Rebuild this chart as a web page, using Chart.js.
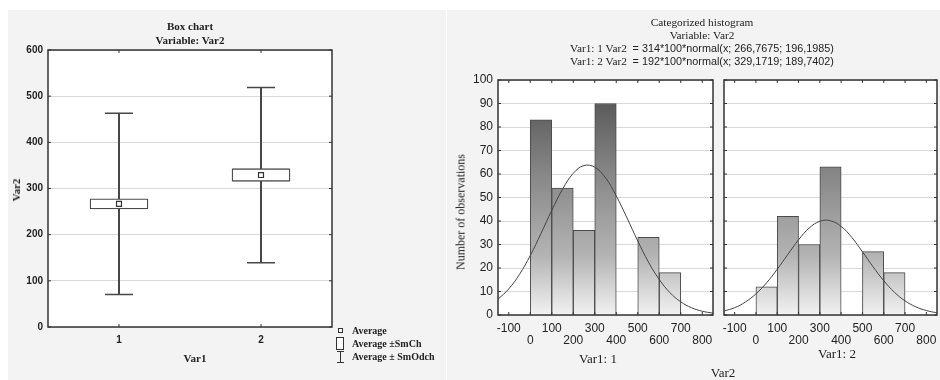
<!DOCTYPE html>
<html><head><meta charset="utf-8">
<script src="https://cdn.jsdelivr.net/npm/chart.js@4/dist/chart.umd.min.js"></script>
<style>
html,body{margin:0;padding:0;background:#fff;}
body{width:940px;height:380px;position:relative;overflow:hidden;font-family:"Liberation Serif","Times New Roman",serif;color:#222;}
.panel{position:absolute;background:#f3f3f3;}
canvas{position:absolute;}
.t{position:absolute;white-space:pre;color:#222;}
.c{transform:translate(-50%,-50%);}
.r{transform:translate(-50%,-50%) rotate(-90deg);}
.sans{font-family:"Liberation Sans",Arial,sans-serif;font-size:10.8px;}
</style></head><body>
<div class="panel" style="left:8px;top:10px;width:438px;height:370px"></div>
<div class="panel" style="left:447px;top:10px;width:493px;height:370px"></div>
<canvas id="box" width="340" height="380" style="left:0;top:0;width:340px;height:380px"></canvas>
<canvas id="h1" width="263" height="380" style="left:453px;top:0;width:263px;height:380px"></canvas>
<canvas id="h2" width="224" height="380" style="left:716px;top:0;width:224px;height:380px"></canvas>

<div class="t c" style="left:190px;top:33px;font-weight:bold;font-size:11px;line-height:14px;text-align:center">Box chart
Variable: Var2</div>
<div class="t r" style="left:16px;top:190px;font-weight:bold;font-size:11px">Var2</div>
<div class="t c" style="left:195px;top:358px;font-weight:bold;font-size:11px">Var1</div>

<div class="t" style="left:338px;top:328px;width:5px;height:5px;border:1px solid #333;box-sizing:border-box;background:#fff"></div>
<div class="t" style="left:352px;top:325px;font-weight:bold;font-size:10px">Average</div>
<div class="t" style="left:336px;top:337px;width:8px;height:13px;border:1.3px solid #333;box-sizing:border-box;background:#fff"></div>
<div class="t" style="left:352px;top:338px;font-weight:bold;font-size:10px">Average ±SmCh</div>
<div class="t" style="left:339.5px;top:351px;width:1.3px;height:12px;background:#333"></div>
<div class="t" style="left:336.5px;top:351px;width:7px;height:1.3px;background:#333"></div>
<div class="t" style="left:336.5px;top:362px;width:7px;height:1.3px;background:#333"></div>
<div class="t" style="left:352px;top:351px;font-weight:bold;font-size:10px">Average ± SmOdch</div>

<div class="t c" style="left:702px;top:42.5px;font-size:11.3px;line-height:13.3px;text-align:center">Categorized histogram
Variable: Var2
Var1: 1 Var2  <span class="sans">= 314*100*normal(x; 266,7675; 196,1985)</span>
Var1: 2 Var2  <span class="sans">= 192*100*normal(x; 329,1719; 189,7402)</span></div>
<div class="t r" style="left:461px;top:212px;font-size:12px">Number of observations</div>
<div class="t c" style="left:598px;top:359px;font-size:13px">Var1: 1</div>
<div class="t c" style="left:837px;top:354px;font-size:13px">Var1: 2</div>
<div class="t c" style="left:723px;top:373px;font-size:13px">Var2</div>

<script>
// ---------- Box chart data ----------
const boxCategories = ['1', '2'];
const boxMeans = [266.77, 329.17];
const boxLow = [255.7, 315.5];      // mean - std. error
const boxHigh = [277.8, 342.9];     // mean + std. error
const whiskerLow = [70.6, 139.4];   // mean - std. dev.
const whiskerHigh = [463.0, 518.9]; // mean + std. dev.
const boxYTicks = [0, 100, 200, 300, 400, 500, 600];

// ---------- Histogram data ----------
const binCenters = [50, 150, 250, 350, 450, 550, 650];
const counts1 = [83, 54, 36, 90, 0, 33, 18];
const counts2 = [12, 42, 30, 63, 0, 27, 18];
const curveX = [-150, -100, -50, 0, 50, 100, 150, 200, 250, 300, 350, 400, 450, 500, 550, 600, 650, 700, 750, 800, 850];
const curve1 = [6.7, 11.1, 17.3, 25.3, 34.7, 44.5, 53.5, 60.3, 63.6, 62.9, 58.4, 50.7, 41.3, 31.5, 22.5, 15.1, 9.5, 5.6, 3.1, 1.6, 0.8];
const curve2 = [1.7, 3.1, 5.5, 9.0, 13.7, 19.5, 25.8, 32.0, 37.0, 39.9, 40.1, 37.7, 33.0, 26.9, 20.5, 14.6, 9.7, 6.0, 3.5, 1.9, 0.9];
const histXTicks = [-100, 0, 100, 200, 300, 400, 500, 600, 700, 800];
const histYTicks = [0, 10, 20, 30, 40, 50, 60, 70, 80, 90, 100];

const INK = '#333';
const GRID = '#d9d9d9';
const WHISKER = '#474747';

const framePlugin = {
  id: 'frame',
  beforeDraw(chart) {
    const { ctx, chartArea: a } = chart;
    ctx.save();
    ctx.fillStyle = '#fff';
    ctx.fillRect(a.left, a.top, a.width, a.height);
    ctx.restore();
  },
  afterDraw(chart) {
    const { ctx, chartArea: a, scales } = chart;
    ctx.save();
    ctx.strokeStyle = INK;
    ctx.lineWidth = 1;
    ctx.beginPath();
    scales.x.ticks.forEach((t, i) => {
      const px = scales.x.getPixelForTick(i);
      ctx.moveTo(px, a.top); ctx.lineTo(px, a.top + 3);
      ctx.moveTo(px, a.bottom); ctx.lineTo(px, a.bottom - 3);
    });
    scales.y.ticks.forEach((t, i) => {
      const py = scales.y.getPixelForTick(i);
      ctx.moveTo(a.right, py); ctx.lineTo(a.right - 3, py);
      ctx.moveTo(a.left, py); ctx.lineTo(a.left + 3, py);
    });
    ctx.stroke();
    ctx.lineWidth = 1.5;
    ctx.strokeRect(a.left, a.top, a.width, a.height);
    ctx.restore();
  }
};

function noSidePadding(s) { s.paddingLeft = 0; s.paddingRight = 0; }

Chart.defaults.animation = false;
Chart.defaults.font.family = '"Liberation Sans", Arial, sans-serif';
Chart.defaults.color = '#222';

// ---------- Box chart ----------
new Chart(document.getElementById('box'), {
  type: 'bar',
  data: {
    labels: boxCategories,
    datasets: [
      { type: 'line', data: boxMeans, showLine: false, pointStyle: 'rect', pointRadius: 3.5,
        pointBackgroundColor: '#fff', pointBorderColor: INK, pointBorderWidth: 1.2 },
      { type: 'bar', data: boxLow.map((l, i) => [l, boxHigh[i]]), barThickness: 58, grouped: false,
        backgroundColor: '#fff', borderColor: '#4a4a4a', borderWidth: 1.3, borderSkipped: false, borderRadius: 1 },
      { type: 'bar', data: whiskerLow.map((l, i) => [l, whiskerHigh[i]]), barThickness: 1.4, grouped: false,
        backgroundColor: WHISKER, borderWidth: 0 },
      { type: 'line', data: whiskerHigh, showLine: false, pointStyle: 'line', pointRadius: 14,
        pointBorderColor: WHISKER, pointBorderWidth: 1.5 },
      { type: 'line', data: whiskerLow, showLine: false, pointStyle: 'line', pointRadius: 14,
        pointBorderColor: WHISKER, pointBorderWidth: 1.5 }
    ]
  },
  options: {
    responsive: false,
    events: [],
    layout: { autoPadding: false, padding: { top: 50, right: 8, left: 0, bottom: 0 } },
    plugins: { legend: { display: false }, title: { display: false }, tooltip: { enabled: false } },
    scales: {
      x: {
        type: 'category', offset: true,
        grid: { display: false, drawTicks: false }, border: { display: false },
        ticks: { padding: 7, font: { size: 10, weight: 'bold' } },
        afterFit(s) { s.height = 53; noSidePadding(s); }
      },
      y: {
        min: 0, max: 600,
        afterBuildTicks(s) { s.ticks = boxYTicks.map(v => ({ value: v })); },
        grid: { color: GRID, drawTicks: false }, border: { display: false },
        ticks: { padding: 5, font: { size: 10, weight: 'bold' } },
        afterFit(s) { s.width = 48; }
      }
    }
  },
  plugins: [framePlugin]
});

// ---------- Histograms ----------
function barGradient(ctx) {
  const chart = ctx.chart;
  const a = chart.chartArea;
  if (!a) return '#999';
  const g = chart.ctx.createLinearGradient(0, a.top, 0, a.bottom);
  g.addColorStop(0, '#4c4c4c');
  g.addColorStop(0.4, '#878787');
  g.addColorStop(0.75, '#b4b4b4');
  g.addColorStop(1, '#f2f2f2');
  return g;
}

function histChart(id, counts, curve, showY, yWidth) {
  return new Chart(document.getElementById(id), {
    type: 'bar',
    data: {
      datasets: [
        { type: 'line', data: curveX.map((x, i) => ({ x, y: curve[i] })), borderColor: '#444', borderWidth: 1,
          pointRadius: 0, tension: 0.4, fill: false },
        { type: 'bar', data: binCenters.map((x, i) => ({ x, y: counts[i] })), backgroundColor: barGradient,
          borderColor: '#4a4a4a', borderWidth: 1, borderSkipped: 'start', barPercentage: 1, categoryPercentage: 1 }
      ]
    },
    options: {
      responsive: false,
      events: [],
      layout: { autoPadding: false, padding: { top: 80, right: 3, left: 0, bottom: 0 } },
      plugins: { legend: { display: false }, title: { display: false }, tooltip: { enabled: false } },
      scales: {
        x: {
          type: 'linear', min: -150, max: 850, offset: false,
          afterBuildTicks(s) { s.ticks = histXTicks.map(v => ({ value: v })); },
          grid: { display: false, drawTicks: false }, border: { display: false },
          ticks: {
            padding: 8, maxRotation: 0, autoSkip: false, font: { size: 12, lineHeight: 1.0 },
            callback: v => (Math.round(v / 100) % 2 !== 0) ? [String(v), ''] : ['', String(v)]
          },
          afterFit(s) { s.height = 65; noSidePadding(s); }
        },
        y: {
          min: 0, max: 100,
          afterBuildTicks(s) { s.ticks = histYTicks.map(v => ({ value: v })); },
          grid: { color: GRID, drawTicks: false }, border: { display: false },
          ticks: { display: showY, padding: 5, font: { size: 12 } },
          afterFit(s) { s.width = yWidth; }
        }
      }
    },
    plugins: [framePlugin]
  });
}

histChart('h1', counts1, curve1, true, 45);
histChart('h2', counts2, curve2, false, 8);
</script>
</body></html>
